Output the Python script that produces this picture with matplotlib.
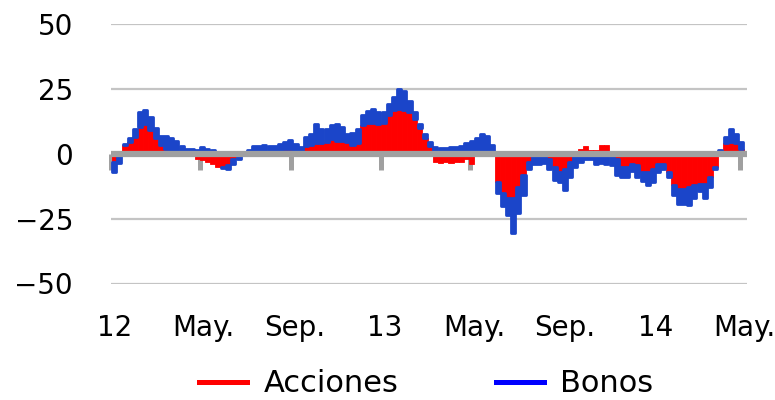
import matplotlib
matplotlib.use("Agg")
import matplotlib.pyplot as plt
from matplotlib.lines import Line2D
import numpy as np
import pandas as pd

# Weekly flows, Jan 2012 - May 2014
acciones = [-3, -1, 3.5, 4.5, 6.5, 10.5, 11.5, 9, 6, 3.5,
            2, 1, 0.3, 0, -0.5, -1, -2, -2.5, -3, -4,
            -5, -5, -4.5, -2, -1, 0, 0.3, 0.3, 0.3, 0.5,
            0.3, 0.5, 1.5, 2, 2, 1, 0.5, 3, 3.5, 4,
            4, 4.5, 5.5, 5, 5, 4.5, 3.5, 4, 11, 12,
            12, 11.5, 12, 15, 17, 17.3, 17, 16, 13.5, 10,
            6, 3, -3, -3.5, -3, -3.5, -3, -3, -2, -4,
            0, 0, 0.5, -1, -11, -15, -17, -17, -13, -8,
            -3, -1, 0.5, 0.8, -2, -5, -7, -6, -3, -1,
            2, 3, 1.5, 1.5, 3.5, 3.5, -0.5, -2, -5, -5,
            -4, -4.5, -7, -7, -6, -4, -3.8, -7, -12, -13.5,
            -13.5, -12.7, -12, -11.5, -11.5, -9, -5, 0.5, 4, 4.6,
            4, 2]
bonos = [-4, -2.5, 0.3, 1.5, 3, 5.5, 5.5, 5, 4, 3.5,
         5, 5, 4.5, 3, 2, 2, 1.5, 2.5, 2, 1.5,
         0.5, -0.5, -1.5, -2, -1, 0.5, 1, 2.5, 2.7, 2.8,
         2.5, 2.3, 2.3, 2.5, 3.4, 2.8, 2, 3.5, 4, 7.5,
         5.5, 5, 5.5, 6.5, 5.4, 3.2, 4.5, 5.6, 4, 4.5,
         5.3, 4.5, 4, 4, 5, 7.7, 7, 4.5, 2.5, 1.5,
         1.5, 1.5, 2.5, 2.3, 2.3, 2.5, 2.5, 2.8, 4, 5,
         6, 7.7, 6.5, 3.5, -4, -5, -6.5, -13.5, -10, -8,
         -3, -3, -4, -3.5, -4, -5, -4, -8, -6, -4,
         -3, -2, -2, -3.8, -3.5, -3.8, -4, -6, -4, -4,
         -2.5, -4.5, -3.5, -5, -5, -3, -2, -2, -4, -6,
         -6, -7, -5, -3, -5.5, -4, -1, 1, 2.5, 5,
         3.5, 2.5]
dates = pd.date_range("2012-01-06", periods=len(acciones), freq="7D")
tick_dates = pd.to_datetime(["2012-01-01", "2012-05-01", "2012-09-01", "2013-01-01",
                             "2013-05-01", "2013-09-01", "2014-01-01", "2014-05-01"])
tick_labels = ["12", "May.", "Sep.", "13", "May.", "Sep.", "14", "May."]
y_ticks = [50, 25, 0, -25, -50]
y_labels = ["50", "25", "0", "\u221225", "\u221250"]

A = np.array(acciones, dtype=float)
B = np.array(bonos, dtype=float)
bottom_b = np.where(np.sign(A) == np.sign(B), A, 0.0)

red = "#ff0000"
blue_bar = "#1b45c9"

fig = plt.figure(figsize=(7.75, 4.0), dpi=100)
ax = fig.add_axes([110.5 / 775, 1 - 283.5 / 400, (747 - 110.5) / 775, (283.5 - 24) / 400])

w = pd.Timedelta(days=7)
ax.bar(dates, A, width=w, color=red, edgecolor=red, linewidth=0.6, zorder=3)
ax.bar(dates, B, bottom=bottom_b, width=pd.Timedelta(days=5.5), color=blue_bar,
       edgecolor=blue_bar, linewidth=2.0, joinstyle="round", zorder=3)

ax.set_xlim(pd.Timestamp("2012-01-01"), pd.Timestamp("2014-05-10"))
ax.set_ylim(-50, 50)

for yv in [50, 25, -25, -50]:
    ax.axhline(yv, color="#c4c4c4", lw=1.6, zorder=1)

for s in ["top", "right", "left"]:
    ax.spines[s].set_visible(False)
ax.spines["bottom"].set_position(("data", 0))
ax.spines["bottom"].set_color("#a0a0a0")
ax.spines["bottom"].set_linewidth(4.5)
ax.spines["bottom"].set_zorder(4)
ax.spines["bottom"].set_capstyle("butt")

ax.set_xticks(tick_dates)
ax.set_xticklabels([])
ax.tick_params(axis="x", direction="out", length=11.5, width=3.6, color="#a0a0a0")

ax.set_yticks(y_ticks)
ax.set_yticklabels(y_labels, fontsize=20)
ax.tick_params(axis="y", length=0, pad=27)

for d, lab in zip(tick_dates, tick_labels):
    ax.text(d + pd.Timedelta(days=5), -67, lab, ha="center", va="center",
            fontsize=20, clip_on=False)

handles = [Line2D([], [], color="#ff0000", lw=3.6),
           Line2D([], [], color="#0000ff", lw=3.6)]
fig.legend(handles, ["Acciones", "Bonos"], loc="center", bbox_to_anchor=(0.5503, 0.04),
           ncol=2, frameon=False, fontsize=22, handlelength=1.55, handletextpad=0.55,
           columnspacing=3.2)

fig.savefig("out.png", dpi=100)
